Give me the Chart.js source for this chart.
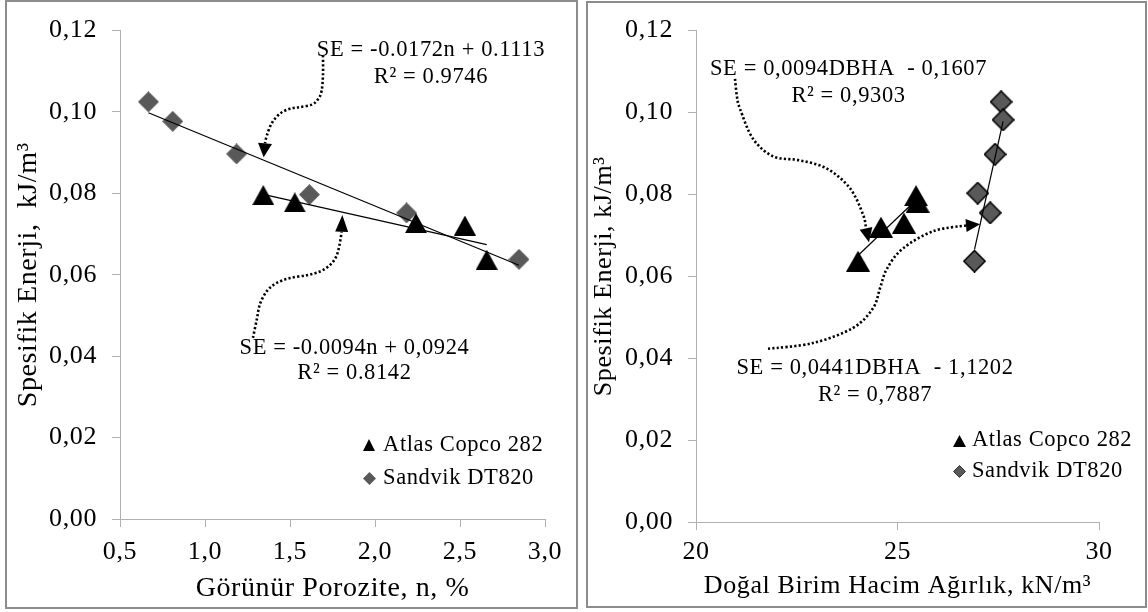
<!DOCTYPE html>
<html><head><meta charset="utf-8">
<script src="https://cdn.jsdelivr.net/npm/chart.js@4.4.1/dist/chart.umd.min.js"></script>
<style>
html,body{margin:0;padding:0;background:#fff;}
body{width:1148px;height:612px;position:relative;overflow:hidden;}
.wrap{position:absolute;top:0;width:574px;height:612px;}
.frame{position:absolute;border:2px solid #8c8c8c;box-sizing:border-box;pointer-events:none;}
</style></head><body>
<div class="wrap" style="left:0"><canvas id="c1" width="574" height="612"></canvas></div>
<div class="wrap" style="left:574px"><canvas id="c2" width="574" height="612"></canvas></div>
<div class="frame" style="left:5px;top:0;width:573px;height:609px"></div>
<div class="frame" style="left:586px;top:1px;width:561px;height:607px"></div>
<script>
// ---------- DATA ----------
const seriesNames = ['Atlas Copco 282', 'Sandvik DT820'];
const yTickLabels = ['0,00', '0,02', '0,04', '0,06', '0,08', '0,10', '0,12'];
const leftXTickLabels = ['0,5', '1,0', '1,5', '2,0', '2,5', '3,0'];
const rightXTickLabels = ['20', '25', '30'];

// Left: Görünür Porozite (n, %) vs Spesifik Enerji
const atlasPorosity = [1.343, 1.528, 2.241, 2.529, 2.657];
const atlasSE_L = [0.0796, 0.0778, 0.0727, 0.0721, 0.0637];
const sandvikPorosity = [0.667, 0.810, 1.186, 1.614, 2.186, 2.847];
const sandvikSE_L = [0.1025, 0.0977, 0.0897, 0.0797, 0.0752, 0.0638];

// Right: Doğal Birim Hacim Ağırlık (kN/m3) vs Spesifik Enerji
const atlasDBHA = [24.02, 24.59, 25.16, 25.46, 25.50];
const atlasSE_R = [0.0637, 0.0720, 0.0730, 0.0797, 0.0781];
const sandvikDBHA = [27.57, 27.62, 27.42, 26.99, 27.30, 26.91];
const sandvikSE_R = [0.1026, 0.0982, 0.0898, 0.0803, 0.0755, 0.0637];

// Trendline coefficients [slope, intercept] as printed on the chart
const trendAtlasL = [-0.0094, 0.0924];
const trendSandvikL = [-0.0172, 0.1113];
const trendAtlasR = [0.0094, -0.1607];
const trendSandvikR = [0.0441, -1.1202];

// Equation labels
const eqLeft = ['SE = -0.0172n + 0.1113', 'R² = 0.9746', 'SE = -0.0094n + 0,0924', 'R² = 0.8142'];
const eqRight = ['SE = 0,0094DBHA  - 0,1607', 'R² = 0,9303', 'SE = 0,0441DBHA  - 1,1202', 'R² = 0,7887'];

// ---------- HELPERS ----------
const FONT = "'Liberation Serif','Times New Roman',serif";
function pts(xs, ys) { return xs.map((x, i) => ({x: x, y: ys[i]})); }
function trend(coef, xs) {
  const a = Math.min(...xs), b = Math.max(...xs);
  return [{x: a, y: coef[0] * a + coef[1]}, {x: b, y: coef[0] * b + coef[1]}];
}
function triImg(w, h, fill) {
  const c = document.createElement('canvas'); c.width = w; c.height = h;
  const g = c.getContext('2d');
  g.beginPath(); g.moveTo(w / 2, 0); g.lineTo(w, h); g.lineTo(0, h); g.closePath();
  g.fillStyle = fill; g.fill(); return c;
}
function diaImg(s, fill, stroke, lw) {
  const c = document.createElement('canvas'); c.width = s; c.height = s;
  const g = c.getContext('2d'); const m = lw ? lw / 2 : 0;
  g.beginPath(); g.moveTo(s / 2, m); g.lineTo(s - m, s / 2); g.lineTo(s / 2, s - m); g.lineTo(m, s / 2); g.closePath();
  g.fillStyle = fill; g.fill();
  if (lw) { g.lineWidth = lw; g.strokeStyle = stroke; g.stroke(); }
  return c;
}
function smoothPath(ctx, p) {
  ctx.moveTo(p[0][0], p[0][1]);
  for (let i = 0; i < p.length - 1; i++) {
    const p0 = p[i - 1] || p[i], p1 = p[i], p2 = p[i + 1], p3 = p[i + 2] || p2;
    ctx.bezierCurveTo(p1[0] + (p2[0] - p0[0]) / 6, p1[1] + (p2[1] - p0[1]) / 6,
                      p2[0] - (p3[0] - p1[0]) / 6, p2[1] - (p3[1] - p1[1]) / 6, p2[0], p2[1]);
  }
}

const overlay = {
  id: 'overlay',
  beforeDraw(chart) { try { chart.ctx.letterSpacing = '0.6px'; } catch (e) {} },
  afterDatasetsDraw(chart, args, o) {
    const ctx = chart.ctx, xs = chart.scales.x, ys = chart.scales.y;
    const px = v => xs.getPixelForValue(v), py = v => ys.getPixelForValue(v);
    ctx.save();
    (o.arrows || []).forEach(a => {
      const p = a.x.map((xv, i) => [px(xv), py(a.y[i])]);
      ctx.beginPath(); smoothPath(ctx, p);
      ctx.setLineDash([2.2, 2.2]); ctx.lineWidth = 2.6; ctx.strokeStyle = '#000'; ctx.stroke();
      ctx.setLineDash([]);
      const base = p[p.length - 1], tip = [px(a.tip[0]), py(a.tip[1])];
      let dx = tip[0] - base[0], dy = tip[1] - base[1]; const L = Math.hypot(dx, dy); dx /= L; dy /= L;
      const hw = a.w / 2;
      ctx.beginPath(); ctx.moveTo(tip[0], tip[1]);
      ctx.lineTo(base[0] - dy * hw, base[1] + dx * hw);
      ctx.lineTo(base[0] + dy * hw, base[1] - dx * hw);
      ctx.closePath(); ctx.fillStyle = '#000'; ctx.fill();
    });
    ctx.font = o.textFont; ctx.textAlign = 'center'; ctx.textBaseline = 'middle'; ctx.fillStyle = '#000';
    (o.texts || []).forEach(t => ctx.fillText(t.text, px(t.x), py(t.y)));
    // legend
    const lg = o.legend;
    if (lg) {
      ctx.font = lg.font; ctx.textAlign = 'left'; ctx.textBaseline = 'middle';
      const x0 = px(lg.x), y0 = py(lg.y);
      chart.data.datasets.slice(0, 2).forEach((ds, i) => {
        const yy = y0 + i * lg.gap, img = lg.markers[i];
        ctx.drawImage(img, Math.round(x0 - img.width / 2), Math.round(yy - img.height / 2));
        ctx.fillText(ds.label, x0 + lg.textOff, yy);
      });
    }
    ctx.restore();
  }
};

function axisCommon(extra) {
  return Object.assign({
    type: 'linear',
    grid: {drawOnChartArea: false, color: '#b0b0b0', tickLength: 8, lineWidth: 1},
    border: {color: '#b0b0b0', width: 1},
  }, extra);
}

function makeChart(id, cfg) {
  return new Chart(document.getElementById(id), {
    type: 'scatter',
    data: {datasets: [
      {label: seriesNames[0], data: cfg.atlas, pointStyle: cfg.triM, pointRadius: 10, order: 2},
      {label: seriesNames[1], data: cfg.sand, pointStyle: cfg.diaM, pointRadius: 10, order: 3},
      {label: 'trend A', data: cfg.tA, showLine: true, borderColor: '#000', borderWidth: 1.2, pointRadius: 0, order: 0},
      {label: 'trend S', data: cfg.tS, showLine: true, borderColor: '#000', borderWidth: 1.2, pointRadius: 0, order: 1}
    ]},
    options: {
      responsive: false, animation: false, events: [],
      layout: {padding: cfg.pad},
      plugins: {legend: {display: false}, tooltip: {enabled: false}, overlay: cfg.overlay},
      scales: {
        x: axisCommon({
          min: cfg.xMin, max: cfg.xMax,
          ticks: {stepSize: cfg.xStep, autoSkip: false, maxRotation: 0, color: '#000', padding: cfg.xTickPad,
                  font: {family: FONT, size: 26}, callback: (v, i) => cfg.xLabels[i]},
          title: {display: true, text: cfg.xTitle, color: '#000', font: {family: FONT, size: cfg.titleSize},
                  padding: {top: 0, bottom: cfg.xTitlePad}},
          afterFit: s => { s.height = cfg.xH; }
        }),
        y: axisCommon({
          min: 0, max: 0.12,
          ticks: {stepSize: 0.02, autoSkip: false, color: '#000', padding: 15,
                  font: {family: FONT, size: 26}, callback: (v, i) => yTickLabels[i]},
          title: {display: true, text: cfg.yTitle, color: '#000', font: {family: FONT, size: cfg.titleSize},
                  padding: {top: cfg.yTitlePad, bottom: 0}},
          afterFit: s => { s.width = cfg.yW; }
        })
      }
    },
    plugins: [overlay]
  });
}

// Left chart
makeChart('c1', {
  atlas: pts(atlasPorosity, atlasSE_L), sand: pts(sandvikPorosity, sandvikSE_L),
  tA: trend(trendAtlasL, atlasPorosity), tS: trend(trendSandvikL, sandvikPorosity),
  triM: triImg(22, 20, '#000'), diaM: diaImg(21, '#595959', null, 0),
  pad: {left: 0, top: 14, right: 29, bottom: 0}, titleSize: 28,
  xMin: 0.5, xMax: 3.0, xStep: 0.5, xLabels: leftXTickLabels, xTickPad: 10, xH: 93, xTitlePad: 7,
  xTitle: 'Görünür Porozite, n, %', yTitle: 'Spesifik Enerji,  kJ/m³', yTitlePad: 12, yW: 120,
  overlay: {
    textFont: '22.5px ' + FONT,
    texts: [
      {text: eqLeft[0], x: 2.329, y: 0.1151}, {text: eqLeft[1], x: 2.329, y: 0.1085},
      {text: eqLeft[2], x: 1.879, y: 0.0420}, {text: eqLeft[3], x: 1.879, y: 0.0358}
    ],
    arrows: [
      {x: [1.694, 1.694, 1.686, 1.666, 1.628, 1.559, 1.500, 1.441, 1.392, 1.363, 1.353],
       y: [0.1139, 0.1091, 0.1052, 0.1032, 0.1018, 0.1012, 0.1008, 0.0996, 0.0972, 0.0941, 0.0923],
       tip: [1.345, 0.0889], w: 14},
      {x: [1.282, 1.304, 1.324, 1.366, 1.422, 1.500, 1.598, 1.676, 1.735, 1.771, 1.790, 1.804],
       y: [0.0445, 0.0489, 0.0529, 0.0561, 0.0580, 0.0592, 0.0599, 0.0608, 0.0624, 0.0644, 0.0671, 0.0706],
       tip: [1.808, 0.0747], w: 13}
    ],
    legend: {x: 1.965, y: 0.0181, gap: 33, textOff: 14, font: '22.5px ' + FONT,
             markers: [triImg(12, 12, '#000'), diaImg(13, '#595959', null, 0)]}
  }
});

// Right chart
makeChart('c2', {
  atlas: pts(atlasDBHA, atlasSE_R), sand: pts(sandvikDBHA, sandvikSE_R),
  tA: trend(trendAtlasR, atlasDBHA), tS: trend(trendSandvikR, sandvikDBHA),
  triM: triImg(24, 21, '#000'), diaM: diaImg(23, '#595959', '#000', 1.6),
  pad: {left: 0, top: 29, right: 49, bottom: 0}, titleSize: 26,
  xMin: 20, xMax: 30, xStep: 5, xLabels: rightXTickLabels, xTickPad: 7, xH: 90, xTitlePad: 10,
  xTitle: 'Doğal Birim Hacim Ağırlık, kN/m³', yTitle: 'Spesifik Enerji, kJ/m³', yTitlePad: 15, yW: 122,
  overlay: {
    textFont: '22.5px ' + FONT,
    texts: [
      {text: eqRight[0], x: 23.784, y: 0.1106}, {text: eqRight[1], x: 23.784, y: 0.1041},
      {text: eqRight[2], x: 24.442, y: 0.0375}, {text: eqRight[3], x: 24.442, y: 0.0311}
    ],
    arrows: [
      {x: [20.968, 21.017, 21.092, 21.414, 21.911, 22.581, 23.251, 23.821, 24.144, 24.218],
       y: [0.1082, 0.1038, 0.1009, 0.0936, 0.0893, 0.0883, 0.0863, 0.0815, 0.0751, 0.0717],
       tip: [24.293, 0.0683], w: 13},
      {x: [21.787, 22.903, 23.896, 24.392, 24.566, 24.740, 25.136, 25.881, 26.700],
       y: [0.0423, 0.0437, 0.0474, 0.0522, 0.0571, 0.0619, 0.0668, 0.0710, 0.0724],
       tip: [27.05, 0.0727], w: 13}
    ],
    legend: {x: 26.55, y: 0.0199, gap: 31, textOff: 12, font: '22.5px ' + FONT,
             markers: [triImg(13, 12, '#000'), diaImg(13, '#595959', '#333', 1)]}
  }
});
</script>
</body></html>
